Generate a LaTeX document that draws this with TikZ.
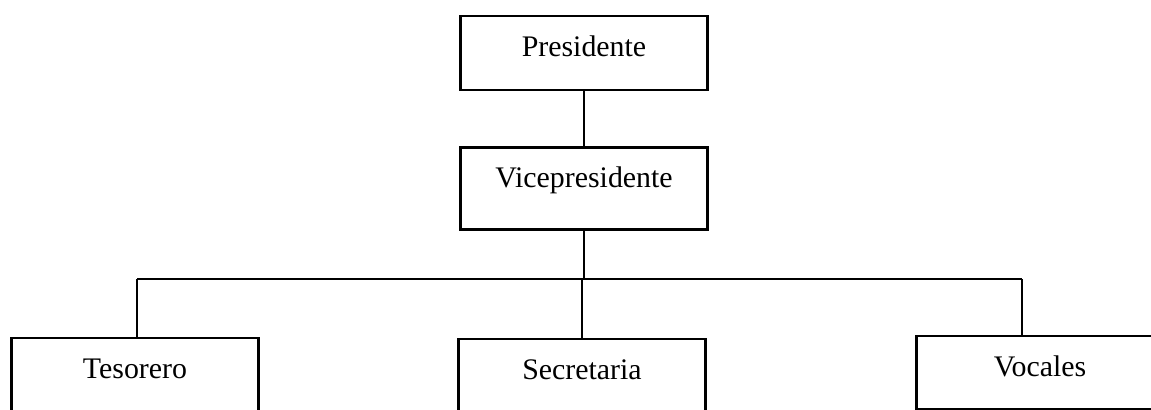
\documentclass[tikz,border=0pt]{standalone}
\usepackage{fontspec}
\setmainfont{Liberation Serif}
\usetikzlibrary{positioning}

\begin{document}
\begin{tikzpicture}[x=0.02cm,y=-0.02cm,
			box/.style={draw,rectangle,line width=1.4pt,inner sep=0pt,minimum width=4.94cm,
				text height=0.8cm,font=\fontsize{17}{20}\selectfont},
			conn/.style={line width=0.7pt}]
			\useasboundingbox (0,0) rectangle (1151,409);
			\node (pres) [box,anchor=north,text depth=0.68cm] at (584,15) {Presidente};
			\node (vice) [box,below=1.1cm of pres,text depth=0.84cm] {Vicepresidente};
			\node (tes) [box,anchor=north,text depth=0.9cm] at (135,337) {Tesorero};
			\node (sec) [box,anchor=north,text depth=0.9cm] at (582,338) {Secretaria};
			\node (voc) [box,anchor=north,text depth=0.66cm] at (1040,335) {Vocales};
			\coordinate (busL) at (137,279);
			\coordinate (busR) at (1022,279);
			\draw [conn] (pres) -- (vice);
			\draw [conn] (busL) -- (busR);
			\draw [conn] (vice.south) -- (vice.south |- busL);
			\draw [conn] (busL) -- (busL |- tes.north);
			\draw [conn] (sec.north |- busL) -- (sec.north);
			\draw [conn] (busR) -- (busR |- voc.north);
		\end{tikzpicture}
\end{document}
